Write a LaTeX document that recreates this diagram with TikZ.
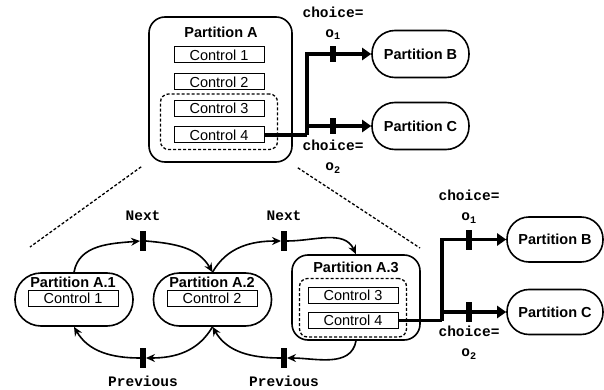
\documentclass[tikz,border=0pt]{standalone}
\usepackage{fontspec}
\setmainfont{Liberation Sans}
\setmonofont{Liberation Mono}
\usetikzlibrary{arrows.meta,positioning,fit}

\tikzset{
  part/.style={draw, line width=1.6pt, inner sep=0pt},
  title/.style={font=\fontsize{14.5}{17}\selectfont\bfseries},
  ctrl/.style={draw, line width=1pt, minimum width=90pt, minimum height=16pt, inner sep=0pt},
  group/.style={draw, line width=1.3pt, dash pattern=on 3pt off 2pt, rounded corners=8pt},
  bar/.style={fill=black, minimum width=5.5pt, minimum height=20pt, inner sep=0pt},
  tag/.style={font=\fontsize{14.5}{20}\selectfont\ttfamily\bfseries, align=center, inner sep=0pt},
  choice/.style={line width=3.5pt, -{Triangle[length=9pt,width=12pt]}},
  hop/.style={line width=1.6pt, -{Stealth[length=9pt,width=8pt]}},
  zoomline/.style={line width=1.3pt, dash pattern=on 3pt off 2pt},
}

\begin{document}
\begin{tikzpicture}[x=1pt, y=-1pt, font=\fontsize{14.5}{17}\selectfont]
  \useasboundingbox (0,0) rectangle (604,390);

  % partition A with its controls
  \node[part, rounded corners=16pt, minimum width=143pt, minimum height=145pt] (A) at (220.5,89.5) {};
  \node[title] (At) at (221,32) {Partition A};
  \node[ctrl] (c1) at (219,55) {Control 1};
  \node[ctrl] (c2) at (219,82) {Control 2};
  \node[ctrl] (c3) at (219,108.5) {Control 3};
  \node[ctrl] (c4) at (219,135) {Control 4};
  \node[group, fit=(c3)(c4), inner xsep=13pt, inner ysep=6pt] (g) {};

  \node[part, title, rounded corners=23pt, minimum width=97pt, minimum height=47pt] (B) at (420.5,54) {Partition B};
  \node[part, title, rounded corners=23pt, minimum width=97pt, minimum height=47pt] (C) at (420.5,126) {Partition C};

  \coordinate (split) at (307,135);
  \draw[line width=3.5pt] (c4.east) -- (split);
  \draw[choice] (split) |- (B.west);
  \draw[choice] (split |- C.west) -- (C.west);

  \node[bar, minimum height=16pt] (t1) at (333,54) {};
  \node[bar, minimum height=16pt] (t2) at (333,126) {};
  \node[tag, above=6pt of t1] {choice=\\o\textsubscript{1}};
  \node[tag, below=6pt of t2] {choice=\\o\textsubscript{2}};

  % zoomed view
  \coordinate (zl) at (30,247);
  \coordinate (zr) at (420,248);
  \draw[zoomline] ([xshift=-7pt,yshift=-4pt]A.south west) -- (zl);
  \draw[zoomline] ([xshift=5pt,yshift=-5pt]A.south east) -- (zr);

  \node[part, rounded corners=26pt, minimum width=118pt, minimum height=53pt] (A1) at (74,299.5) {};
  \node[title] (A1t) at (73,282) {Partition A.1};
  \node[ctrl] (A1c) at (73,298.5) {Control 1};

  \node[part, rounded corners=26pt, minimum width=118pt, minimum height=53pt] (A2) at (212.5,299.5) {};
  \node[title] (A2t) at (212,282) {Partition A.2};
  \node[ctrl] (A2c) at (212,298.5) {Control 2};

  \node[part, rounded corners=16pt, minimum width=128pt, minimum height=85pt] (A3) at (356,297.5) {};
  \node[title] (A3t) at (356,267) {Partition A.3};
  \node[ctrl] (A3c) at (353,295) {Control 3};
  \node[ctrl] (A4c) at (353,320.5) {Control 4};
  \node[group, fit=(A3c)(A4c), inner xsep=8pt, inner ysep=8pt] (g2) {};

  \node[part, title, rounded corners=22pt, minimum width=96pt, minimum height=45pt] (B2) at (555,239.5) {Partition B};
  \node[part, title, rounded corners=22pt, minimum width=96pt, minimum height=45pt] (C2) at (555,312) {Partition C};

  \coordinate (split2) at (442,320.5);
  \draw[line width=3.5pt] (A4c.east) -- (split2);
  \draw[choice] (split2) |- (B2.west);
  \draw[choice] (split2 |- C2.west) -- (C2.west);

  \node[bar] (t3) at (469,239.5) {};
  \node[bar] (t4) at (469,312) {};
  \node[tag, above=6pt of t3] {choice=\\o\textsubscript{1}};
  \node[tag, below=4pt of t4] {choice=\\o\textsubscript{2}};

  % next / previous steps
  \node[bar] (n1) at (143,241) {};
  \node[bar] (n2) at (284,241) {};
  \node[bar] (p1) at (143,358) {};
  \node[bar] (p2) at (284,358) {};

  \draw[hop] (A1.north) to[out=80, in=185] (n1.west);
  \draw[hop] (n1.east) to[out=-5, in=120] (A2.north);
  \draw[hop] (A2.north) to[out=60, in=180] (n2.west);
  \draw[hop] (n2.east) to[out=0, in=115] (A3.north);
  \draw[hop] (A3.south) to[out=-100, in=0] (p2.east);
  \draw[hop] (p2.west) to[out=180, in=-60] (A2.south);
  \draw[hop] (A2.south) to[out=-120, in=0] (p1.east);
  \draw[hop] (p1.west) to[out=180, in=-60] (A1.south);

  \node[tag, above=10pt of n1] {Next};
  \node[tag, above=10pt of n2] {Next};
  \node[tag, below=8pt of p1] {Previous};
  \node[tag, below=8pt of p2] {Previous};
\end{tikzpicture}
\end{document}
